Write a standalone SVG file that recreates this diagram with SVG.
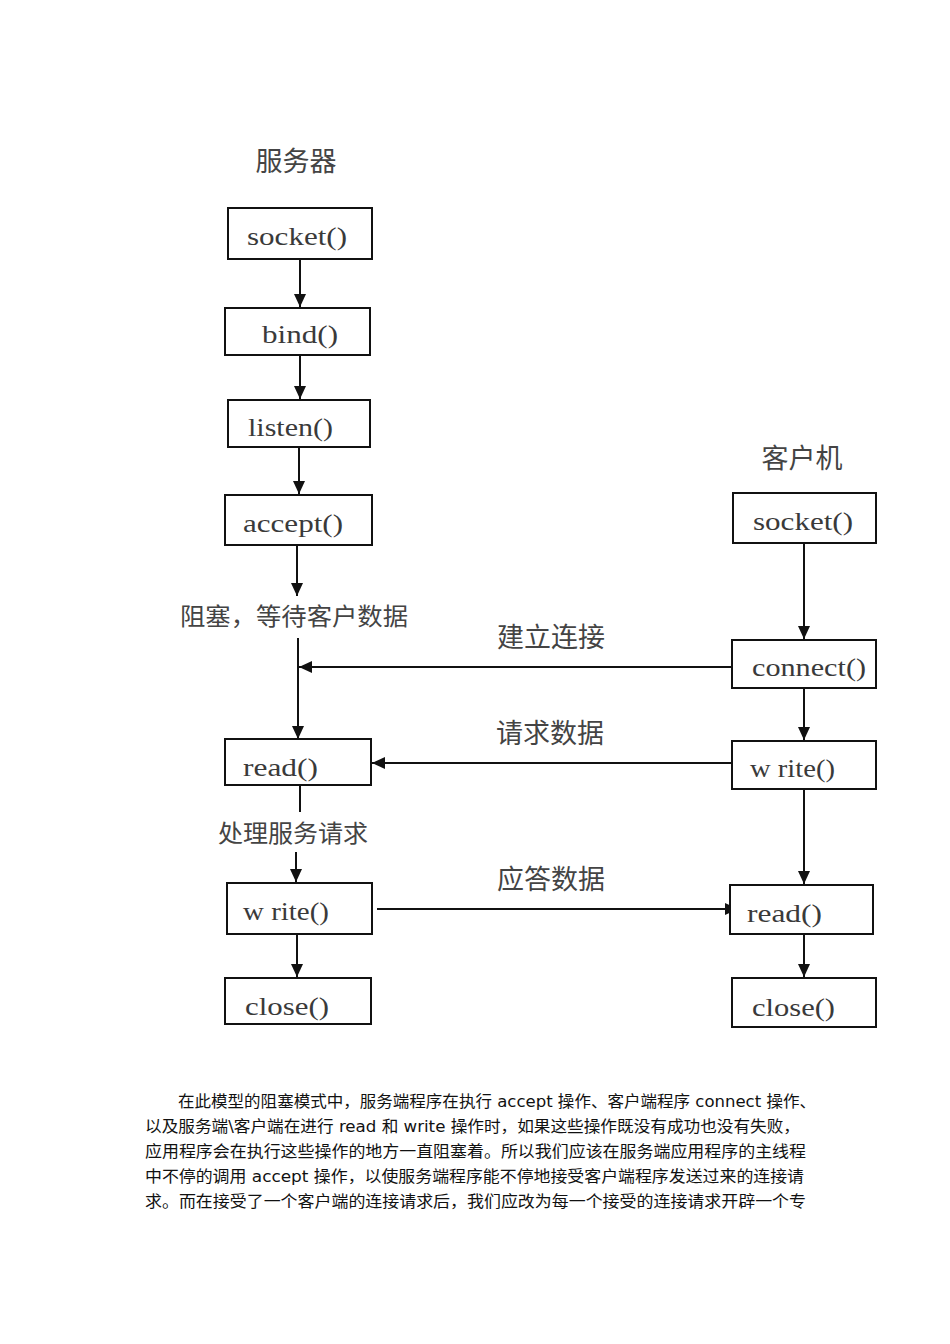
<svg xmlns="http://www.w3.org/2000/svg" width="950" height="1344" viewBox="0 0 950 1344">
<style>
.box{fill:#fff;stroke:#111;stroke-width:2}
.lbl{font-family:"Liberation Serif","Noto Sans CJK SC",serif;font-size:25px;fill:#3a3a3a}
.cn{font-family:"Noto Sans CJK SC",serif;fill:#444}
.title{font-size:27px}
.note{font-size:24px}
.edge{stroke:#111;stroke-width:2;fill:none}
.para{font-family:"DejaVu Sans","Noto Sans CJK SC",sans-serif;font-size:16px;fill:#111}
</style>
<defs>
<marker id="ah" markerUnits="userSpaceOnUse" markerWidth="14" markerHeight="14" viewBox="0 0 14 14" refX="13" refY="7" orient="auto">
<path d="M0,1 L13,7 L0,13 Z" fill="#111"/>
</marker>
</defs>
<rect width="950" height="1344" fill="#fff"/>

<text class="cn title" x="296" y="171" text-anchor="middle">服务器</text>
<text class="cn title" x="802" y="468" text-anchor="middle">客户机</text>

<g id="connectors">
<line class="edge" x1="300" y1="259" x2="300" y2="307" marker-end="url(#ah)"/>
<line class="edge" x1="300" y1="355" x2="300" y2="399" marker-end="url(#ah)"/>
<line class="edge" x1="299" y1="447" x2="299" y2="494" marker-end="url(#ah)"/>
<line class="edge" x1="297" y1="545" x2="297" y2="596" marker-end="url(#ah)"/>
<line class="edge" x1="298" y1="638" x2="298" y2="739" marker-end="url(#ah)"/>
<line class="edge" x1="732" y1="667" x2="299" y2="667" marker-end="url(#ah)"/>
<line class="edge" x1="732" y1="763" x2="372" y2="763" marker-end="url(#ah)"/>
<line class="edge" x1="300" y1="785" x2="300" y2="812"/>
<line class="edge" x1="296" y1="852" x2="296" y2="882" marker-end="url(#ah)"/>
<line class="edge" x1="297" y1="934" x2="297" y2="977" marker-end="url(#ah)"/>
<line class="edge" x1="377" y1="909" x2="738" y2="909" marker-end="url(#ah)"/>
<line class="edge" x1="804" y1="543" x2="804" y2="639" marker-end="url(#ah)"/>
<line class="edge" x1="804" y1="688" x2="804" y2="740" marker-end="url(#ah)"/>
<line class="edge" x1="804" y1="789" x2="804" y2="884" marker-end="url(#ah)"/>
<line class="edge" x1="804" y1="934" x2="804" y2="977" marker-end="url(#ah)"/>
</g>

<g id="edge-labels">
<text class="cn note" x="294" y="625" text-anchor="middle" textLength="228" lengthAdjust="spacingAndGlyphs">阻塞，等待客户数据</text>
<text class="cn title" x="551" y="647" text-anchor="middle">建立连接</text>
<text class="cn title" x="550" y="743" text-anchor="middle">请求数据</text>
<text class="cn note" x="293" y="842" text-anchor="middle" textLength="150" lengthAdjust="spacingAndGlyphs">处理服务请求</text>
<text class="cn title" x="551" y="889" text-anchor="middle">应答数据</text>
</g>

<g id="s_socket"><rect class="box" x="228" y="208" width="144" height="51"/><text class="lbl" x="247" y="245" textLength="100" lengthAdjust="spacingAndGlyphs">socket()</text></g>
<g id="s_bind"><rect class="box" x="225" y="308" width="145" height="47"/><text class="lbl" x="262" y="343" textLength="76" lengthAdjust="spacingAndGlyphs">bind()</text></g>
<g id="s_listen"><rect class="box" x="228" y="400" width="142" height="47"/><text class="lbl" x="248" y="436" textLength="85" lengthAdjust="spacingAndGlyphs">listen()</text></g>
<g id="s_accept"><rect class="box" x="225" y="495" width="147" height="50"/><text class="lbl" x="243" y="532" textLength="100" lengthAdjust="spacingAndGlyphs">accept()</text></g>
<g id="s_read"><rect class="box" x="225" y="739" width="146" height="46"/><text class="lbl" x="243" y="776" textLength="75" lengthAdjust="spacingAndGlyphs">read()</text></g>
<g id="s_write"><rect class="box" x="227" y="883" width="145" height="51"/><text class="lbl" x="243" y="920" textLength="86" lengthAdjust="spacingAndGlyphs">w rite()</text></g>
<g id="s_close"><rect class="box" x="225" y="978" width="146" height="46"/><text class="lbl" x="245" y="1015" textLength="84" lengthAdjust="spacingAndGlyphs">close()</text></g>

<g id="c_socket"><rect class="box" x="733" y="493" width="143" height="50"/><text class="lbl" x="753" y="530" textLength="100" lengthAdjust="spacingAndGlyphs">socket()</text></g>
<g id="c_connect"><rect class="box" x="732" y="640" width="144" height="48"/><text class="lbl" x="752" y="676" textLength="114" lengthAdjust="spacingAndGlyphs">connect()</text></g>
<g id="c_write"><rect class="box" x="732" y="741" width="144" height="48"/><text class="lbl" x="750" y="777" textLength="85" lengthAdjust="spacingAndGlyphs">w rite()</text></g>
<g id="c_read"><rect class="box" x="730" y="885" width="143" height="49"/><text class="lbl" x="747" y="922" textLength="75" lengthAdjust="spacingAndGlyphs">read()</text></g>
<g id="c_close"><rect class="box" x="732" y="978" width="144" height="49"/><text class="lbl" x="752" y="1016" textLength="83" lengthAdjust="spacingAndGlyphs">close()</text></g>

<g id="paragraph">
<text class="para" x="178" y="1107" textLength="638" lengthAdjust="spacingAndGlyphs">在此模型的阻塞模式中，服务端程序在执行 accept 操作、客户端程序 connect 操作、</text>
<text class="para" x="145" y="1132" textLength="655" lengthAdjust="spacingAndGlyphs">以及服务端\客户端在进行 read 和 write 操作时，如果这些操作既没有成功也没有失败，</text>
<text class="para" x="145" y="1157" textLength="661" lengthAdjust="spacingAndGlyphs">应用程序会在执行这些操作的地方一直阻塞着。所以我们应该在服务端应用程序的主线程</text>
<text class="para" x="145" y="1182" textLength="659" lengthAdjust="spacingAndGlyphs">中不停的调用 accept 操作，以使服务端程序能不停地接受客户端程序发送过来的连接请</text>
<text class="para" x="145" y="1207" textLength="661" lengthAdjust="spacingAndGlyphs">求。而在接受了一个客户端的连接请求后，我们应改为每一个接受的连接请求开辟一个专</text>
</g>
</svg>
